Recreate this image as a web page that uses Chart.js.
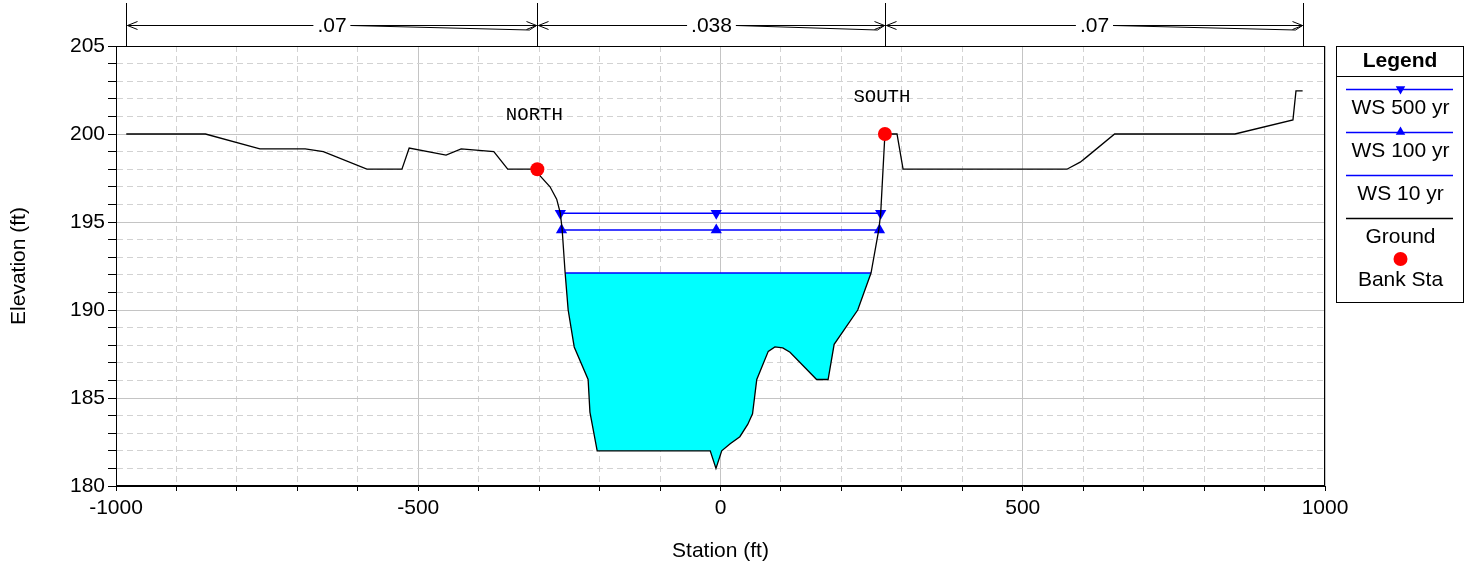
<!DOCTYPE html>
<html>
<head>
<meta charset="utf-8">
<script src="https://cdn.jsdelivr.net/npm/chart.js@4.4.0/dist/chart.umd.min.js"></script>
<style>
  body { margin: 0; background: #fff; }
</style>
</head>
<body>
<canvas id="xsChart" width="1469" height="567"></canvas>
<script>
// ground profile (station ft, elevation ft)
const groundSta = [-983, -852, -762, -687, -657, -585, -527, -515, -454, -429, -375, -352, -303,
  -298, -282, -271, -265, -262, -257, -252, -242, -219, -216, -204, -17, -7.5, 2, 16, 32, 45, 53,
  60, 79, 90, 103, 115, 159, 178, 188, 227, 249, 262, 265, 272, 292, 302, 573, 595, 606, 652,
  851, 947, 952, 963];
const groundElev = [200.0, 200.0, 199.15, 199.15, 199.0, 198.0, 198.0, 199.2, 198.8, 199.15, 199.0, 198.0, 198.0,
  197.6, 197.0, 196.3, 195.5, 194.6, 192.1, 190.0, 187.9, 186.05, 184.2, 182.0, 182.0, 181.0, 182.0, 182.4, 182.8, 183.5, 184.1,
  186.05, 187.65, 187.9, 187.85, 187.6, 186.05, 186.05, 188.05, 190.0, 192.1, 194.6, 195.5, 200.0, 200.0, 198.0, 198.0, 198.4, 198.7, 200.0,
  200.0, 200.8, 202.45, 202.45];

const bankSta = [-303, 272];
const bankElev = [198.0, 200.0];
const bankNames = ['NORTH', 'SOUTH'];

const ws500Sta = [-265, -7, 265];
const ws500Elev = 195.5;
const ws100Sta = [-263, -7, 263];
const ws100Elev = 194.55;
const ws10Sta = [-257, 249];
const ws10Elev = 192.1;

// Manning's n regions
const nBreaks = [-983, -303, 272, 963];
const nValues = [0.07, 0.038, 0.07];

const xMin = -1000, xMax = 1000, xStep = 100, xLabelStep = 500;
const yMin = 180, yMax = 205, yStep = 1, yLabelStep = 5;

const FONT = '"Liberation Sans", Arial, sans-serif';
const FSIZE = 21;

function pts(xs, ys) {
  return xs.map((x, i) => ({ x: x, y: Array.isArray(ys) ? ys[i] : ys }));
}

const waterPts = pts(groundSta, groundElev).filter(p => p.x >= ws10Sta[0] && p.x <= ws10Sta[ws10Sta.length - 1]);

const datasets = [
  { label: 'Bank Sta', data: pts(bankSta, bankElev), showLine: false, pointRadius: 7,
    pointBackgroundColor: '#ff0000', pointBorderWidth: 0, pointStyle: 'circle' },
  { label: 'Ground', data: pts(groundSta, groundElev), showLine: true, borderColor: '#000000',
    borderWidth: 1.3, pointRadius: 0, fill: false },
  { label: 'WS 500 yr', data: pts(ws500Sta, ws500Elev), showLine: true, borderColor: '#0000ff',
    borderWidth: 1.5, pointRadius: 6.5, pointStyle: 'triangle', rotation: 180,
    pointBackgroundColor: '#0000ff', pointBorderWidth: 0 },
  { label: 'WS 100 yr', data: pts(ws100Sta, ws100Elev), showLine: true, borderColor: '#0000ff',
    borderWidth: 1.5, pointRadius: 6.5, pointStyle: 'triangle', rotation: 0,
    pointBackgroundColor: '#0000ff', pointBorderWidth: 0 },
  { label: 'WS 10 yr', data: pts(ws10Sta, ws10Elev), showLine: true, borderColor: '#0000ff',
    borderWidth: 1.5, pointRadius: 0 },
  { label: 'water', data: waterPts, showLine: true, borderWidth: 0, borderColor: 'rgba(0,0,0,0)',
    pointRadius: 0, fill: { value: ws10Elev }, backgroundColor: '#00ffff' }
];

const legendOrder = ['WS 500 yr', 'WS 100 yr', 'WS 10 yr', 'Ground', 'Bank Sta'];

function gridDash(step) {
  return ctx => (ctx.tick && Math.abs(ctx.tick.value % step) > 1e-6) ? [6, 4] : [];
}
function gridColor(step) {
  return ctx => (ctx.tick && Math.abs(ctx.tick.value % step) > 1e-6) ? '#d2d2d2' : '#c4c4c4';
}

const extrasPlugin = {
  id: 'extras',
  afterDraw(chart) {
    const ctx = chart.ctx;
    const ca = chart.chartArea;
    const xs = chart.scales.x, ys = chart.scales.y;
    ctx.save();

    // frame
    ctx.strokeStyle = '#000';
    ctx.lineWidth = 1;
    ctx.strokeRect(Math.round(ca.left) + 0.5, Math.round(ca.top) + 0.5,
      Math.round(ca.right - ca.left) - 1, Math.round(ca.bottom - ca.top) - 1);

    // n value dimension lines
    ctx.font = FSIZE + 'px ' + FONT;
    ctx.textAlign = 'center';
    ctx.textBaseline = 'middle';
    ctx.fillStyle = '#000';
    const ay = 25;
    nBreaks.forEach(b => {
      const px = Math.round(xs.getPixelForValue(b)) + 0.5;
      ctx.beginPath(); ctx.moveTo(px, 3); ctx.lineTo(px, ca.top); ctx.stroke();
    });
    for (let i = 0; i < nValues.length; i++) {
      const x0 = Math.round(xs.getPixelForValue(nBreaks[i])) + 0.5;
      const x1 = Math.round(xs.getPixelForValue(nBreaks[i + 1])) + 0.5;
      const txt = String(nValues[i]).replace(/^0/, '');
      const mid = (x0 + x1) / 2;
      const w = ctx.measureText(txt).width;
      ctx.beginPath();
      ctx.moveTo(x0 + 1, ay + 0.5); ctx.lineTo(mid - w / 2 - 4, ay + 0.5);
      ctx.moveTo(mid + w / 2 + 4, ay + 0.5); ctx.lineTo(x1 - 1, ay + 0.5);
      ctx.moveTo(mid + w / 2 + 4, ay + 0.5); ctx.lineTo(x1 - 8, ay + 5); ctx.lineTo(x1 - 1, ay + 0.5);
      // arrow heads
      ctx.moveTo(x0 + 11, ay - 3.5); ctx.lineTo(x0 + 1, ay + 0.5); ctx.lineTo(x0 + 11, ay + 4.5);
      ctx.moveTo(x1 - 11, ay - 3.5); ctx.lineTo(x1 - 1, ay + 0.5); ctx.lineTo(x1 - 11, ay + 4.5);
      ctx.stroke();
      ctx.fillText(txt, mid, ay + 1);
    }

    // bank labels
    ctx.font = '19px "Liberation Mono", "Courier New", monospace';
    const labelRise = [3.1, 2.1];
    bankNames.forEach((name, i) => {
      ctx.fillText(name, xs.getPixelForValue(bankSta[i]) - 3, ys.getPixelForValue(bankElev[i] + labelRise[i]));
    });

    // legend box
    const lx = 1336, lw = 127, ly = 46, lh = 256;
    ctx.fillStyle = '#fff';
    ctx.fillRect(lx, ly, lw, lh);
    ctx.strokeStyle = '#000';
    ctx.strokeRect(lx + 0.5, ly + 0.5, lw, lh);
    ctx.beginPath(); ctx.moveTo(lx, 76.5); ctx.lineTo(lx + lw, 76.5); ctx.stroke();
    ctx.fillStyle = '#000';
    ctx.font = 'bold ' + FSIZE + 'px ' + FONT;
    ctx.fillText('Legend', lx + lw / 2 + 0.5, 61);
    ctx.font = FSIZE + 'px ' + FONT;
    const cx = lx + lw / 2 + 1;
    legendOrder.forEach((lab, i) => {
      const ds = chart.data.datasets.find(d => d.label === lab);
      const y = 89 + 43 * i;
      if (ds.showLine) {
        ctx.strokeStyle = ds.borderColor;
        ctx.lineWidth = 1.3;
        ctx.beginPath(); ctx.moveTo(lx + 10, y + 0.5); ctx.lineTo(lx + lw - 10, y + 0.5); ctx.stroke();
      }
      if (ds.pointRadius > 0) {
        ctx.fillStyle = ds.pointBackgroundColor;
        ctx.beginPath();
        if (ds.pointStyle === 'circle') {
          ctx.arc(cx, y - 2, 7, 0, Math.PI * 2);
        } else {
          const r = 5.5, s = ds.rotation === 180 ? -1 : 1;
          ctx.moveTo(cx, y - s * r);
          ctx.lineTo(cx - r * 0.866, y + s * r * 0.5);
          ctx.lineTo(cx + r * 0.866, y + s * r * 0.5);
          ctx.closePath();
        }
        ctx.fill();
      }
      ctx.fillStyle = '#000';
      ctx.fillText(lab, cx, y + 19);
    });
    ctx.restore();
  }
};

new Chart(document.getElementById('xsChart'), {
  type: 'scatter',
  data: { datasets: datasets },
  options: {
    responsive: false,
    animation: false,
    layout: { padding: { left: 0, top: 46, right: 144, bottom: 0 } },
    plugins: { legend: { display: false }, tooltip: { enabled: false } },
    scales: {
      x: {
        type: 'linear', min: xMin, max: xMax,
        afterFit: s => { s.height = 81; },
        ticks: {
          stepSize: xStep, autoSkip: false, maxRotation: 0, padding: 5,
          color: '#000', font: { family: FONT, size: FSIZE },
          callback: v => (v % xLabelStep === 0 ? String(v) : '')
        },
        grid: { color: gridColor(xLabelStep), tickColor: '#000', tickLength: 5, lineWidth: 1 },
        border: { color: '#000', width: 1, dash: gridDash(xLabelStep) },
        title: { display: true, text: 'Station (ft)', color: '#000',
          font: { family: FONT, size: FSIZE }, padding: { top: 0, bottom: 3 } }
      },
      y: {
        type: 'linear', min: yMin, max: yMax,
        afterFit: s => { s.width = 116; },
        ticks: {
          stepSize: yStep, autoSkip: false, padding: 3,
          color: '#000', font: { family: FONT, size: FSIZE },
          callback: v => (v % yLabelStep === 0 ? String(v) : '')
        },
        grid: { color: gridColor(yLabelStep), tickColor: '#000', tickLength: 8, lineWidth: 1 },
        border: { color: '#000', width: 1, dash: gridDash(yLabelStep) },
        title: { display: true, text: 'Elevation (ft)', color: '#000',
          font: { family: FONT, size: FSIZE }, padding: { top: 7, bottom: 0 } }
      }
    }
  },
  plugins: [extrasPlugin]
});
</script>
</body>
</html>
